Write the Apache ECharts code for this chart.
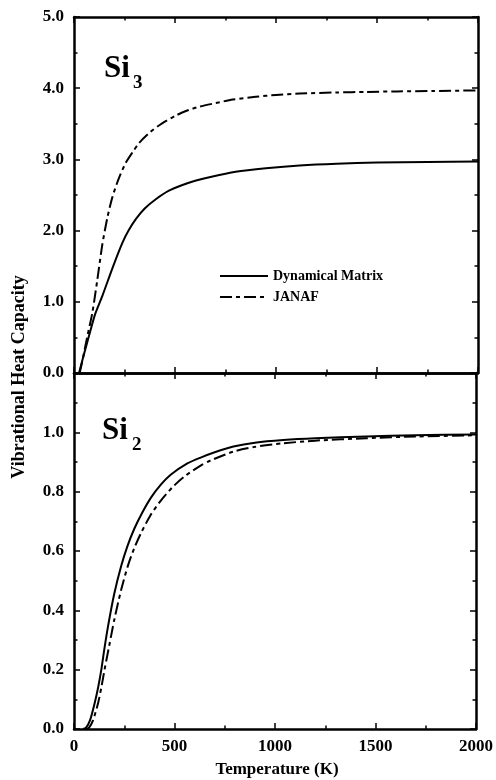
<!DOCTYPE html>
<html>
<head>
<meta charset="utf-8">
<script src="https://cdn.jsdelivr.net/npm/echarts@6/dist/echarts.min.js"></script>
<style>
  html, body { margin: 0; padding: 0; background: #fff; }
  #char { width: 496px; height: 780px; }
</style>
</head>
<body>
<div id="char"></div>
<script>
// Si3 (top panel)
const si3MatrixT = [25, 50, 74, 105, 140, 190, 240, 270, 306, 350, 405, 470, 537, 600, 670, 800, 950, 1117, 1300, 1500, 1750, 2000]
const si3MatrixC = [0, 0.27, 0.52, 0.83, 1.08, 1.47, 1.83, 2.0, 2.16, 2.31, 2.44, 2.56, 2.64, 2.70, 2.75, 2.825, 2.875, 2.915, 2.94, 2.955, 2.965, 2.97]
const si3JanafT = [28, 40, 65, 91, 115, 140, 165, 190, 220, 256, 290, 322, 380, 438, 500, 554, 620, 700, 786, 900, 1000, 1117, 1300, 1448, 1600, 1777, 2000]
const si3JanafC = [0, 0.15, 0.5, 0.85, 1.3, 1.8, 2.18, 2.47, 2.72, 2.95, 3.1, 3.23, 3.39, 3.51, 3.61, 3.68, 3.74, 3.79, 3.84, 3.88, 3.905, 3.925, 3.94, 3.948, 3.955, 3.96, 3.97]

// Si2 (bottom panel)
const si2MatrixT = [45, 60, 80, 103, 120, 136, 150, 169, 200, 235, 265, 300, 340, 383, 430, 481, 564, 630, 700, 793, 900, 1041, 1200, 1453, 1700, 2000]
const si2MatrixC = [0, 0.005, 0.03, 0.088, 0.14, 0.2, 0.265, 0.345, 0.455, 0.55, 0.615, 0.675, 0.73, 0.78, 0.822, 0.857, 0.895, 0.915, 0.933, 0.952, 0.965, 0.974, 0.98, 0.986, 0.99, 0.993]
const si2JanafT = [60, 75, 95, 120, 136, 152, 175, 201, 235, 268, 300, 333, 380, 432, 490, 547, 630, 679, 793, 900, 1041, 1200, 1453, 1700, 2000]
const si2JanafC = [0, 0.005, 0.03, 0.088, 0.14, 0.2, 0.28, 0.37, 0.47, 0.55, 0.61, 0.66, 0.72, 0.77, 0.815, 0.85, 0.888, 0.905, 0.935, 0.951, 0.963, 0.972, 0.98, 0.986, 0.99]

const FONT = '"Liberation Serif", "Times New Roman", serif'
const pairs = (t, c) => t.map((v, i) => [v, c[i]])

let myChart = echarts.init(document.getElementById('char'))

const axisLine = { show: true, onZero: false, lineStyle: { color: '#000', width: 2.5 } }
const tick = { show: true, inside: true, length: 6, lineStyle: { color: '#000', width: 1.5 } }
const minor = { show: true, splitNumber: 2, length: 3.5, lineStyle: { color: '#000', width: 1.5 } }
const label = { color: '#000', fontFamily: FONT, fontWeight: 'bold', fontSize: 17 }

function xAxis(grid, pos, showLabel) {
  return {
    type: 'value', gridIndex: grid, position: pos, min: 0, max: 2000, interval: 500,
    axisLine: axisLine, axisTick: tick, minorTick: minor, splitLine: { show: false },
    axisLabel: Object.assign({ show: showLabel, margin: 9, formatter: v => String(v) }, label)
  }
}
function yAxis(grid, pos, max, interval, showLabel, hideTop) {
  return {
    type: 'value', gridIndex: grid, position: pos, min: 0, max: max, interval: interval,
    axisLine: axisLine, axisTick: tick, minorTick: minor, splitLine: { show: false },
    axisLabel: Object.assign({
      show: showLabel, margin: 10,
      formatter: v => (hideTop && v >= max - 1e-9) ? '' : v.toFixed(1)
    }, label)
  }
}

const solid = { color: '#000', width: 2, type: 'solid' }
const dashDot = { color: '#000', width: 2, type: [12, 4, 4, 4] }
const line = (name, xi, data, style) => ({
  name: name, type: 'line', xAxisIndex: xi, yAxisIndex: xi, data: data,
  symbol: 'none', smooth: 0.25, lineStyle: style, itemStyle: { color: '#000' }
})

let option = {
  animation: false,
  grid: [
    { left: 74, right: 18, top: 17, height: 356 },
    { left: 74, right: 18, top: 373, height: 356 }
  ],
  xAxis: [
    xAxis(0, 'bottom', false), xAxis(0, 'top', false),
    xAxis(1, 'bottom', true), xAxis(1, 'top', false)
  ],
  yAxis: [
    yAxis(0, 'left', 5, 1, true, false), yAxis(0, 'right', 5, 1, false, false),
    yAxis(1, 'left', 1.2, 0.2, true, true), yAxis(1, 'right', 1.2, 0.2, false, true)
  ],
  legend: {
    orient: 'vertical', left: 214, top: 264, itemWidth: 48, itemHeight: 10, itemGap: 7,
    data: ['Dynamical Matrix', 'JANAF'],
    itemStyle: { color: 'transparent', borderWidth: 0 },
    textStyle: { color: '#000', fontFamily: FONT, fontWeight: 'bold', fontSize: 14 }
  },
  series: [
    line('Dynamical Matrix', 0, pairs(si3MatrixT, si3MatrixC), solid),
    line('JANAF', 0, pairs(si3JanafT, si3JanafC), dashDot),
    line('Dynamical Matrix', 2, pairs(si2MatrixT, si2MatrixC), solid),
    line('JANAF', 2, pairs(si2JanafT, si2JanafC), dashDot)
  ],
  graphic: [
    { type: 'text', left: 104, top: 53, style: { text: 'Si', fill: '#000', font: 'bold 31px ' + FONT } },
    { type: 'text', left: 133, top: 74, style: { text: '3', fill: '#000', font: 'bold 19px ' + FONT } },
    { type: 'text', left: 102, top: 415, style: { text: 'Si', fill: '#000', font: 'bold 31px ' + FONT } },
    { type: 'text', left: 132, top: 436, style: { text: '2', fill: '#000', font: 'bold 19px ' + FONT } },
    { type: 'text', x: 19, y: 377, rotation: Math.PI / 2, style: { text: 'Vibrational Heat Capacity', fill: '#000', font: 'bold 18px ' + FONT, align: 'center', verticalAlign: 'middle' } },
    { type: 'text', x: 277, y: 770, style: { text: 'Temperature (K)', fill: '#000', font: 'bold 17px ' + FONT, align: 'center', verticalAlign: 'middle' } }
  ]
}
myChart.setOption(option)
</script>
</body>
</html>
